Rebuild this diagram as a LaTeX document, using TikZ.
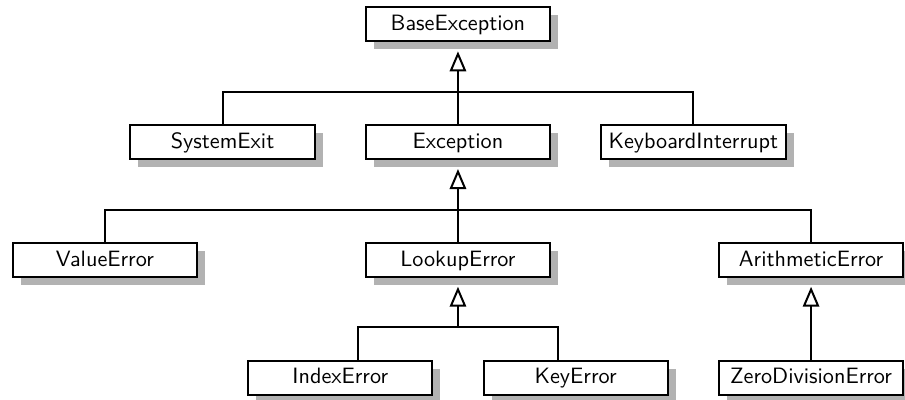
\documentclass[tikz,border=0pt]{standalone}
\usepackage{tikz}
\usetikzlibrary{
    arrows.meta,
    shadows
}

\tikzset{
    cls/.style={draw, line width=0.9pt, fill=white, font=\sffamily,
                minimum width=83pt, minimum height=15.3pt, inner sep=0pt,
                text height=1.6ex, text depth=0.3ex,
                drop shadow={shadow xshift=3.6pt, shadow yshift=-3.6pt,
                             fill=black!30, opacity=1}},
    link/.style={line width=0.9pt},
    inherit/.style={line width=0.9pt, shorten >=4pt,
                    -{Triangle[open, length=9pt, width=7.4pt]}}
}

\begin{document}
\begin{tikzpicture}[x=53pt, y=53pt]
    \useasboundingbox (-3.891,0.208) rectangle (3.798,-3.182);

    \node[cls] (BaseException)     at (0,0)   {BaseException};

    \node[cls] (SystemExit)        at (-2,-1) {SystemExit};
    \node[cls] (Exception)         at (0,-1)  {Exception};
    \node[cls] (KeyboardInterrupt) at (2,-1)  {KeyboardInterrupt};

    \node[cls] (ValueError)        at (-3,-2) {ValueError};
    \node[cls] (LookupError)       at (0,-2)  {LookupError};
    \node[cls] (ArithmeticError)   at (3,-2)  {ArithmeticError};

    \node[cls] (IndexError)        at (-1,-3) {IndexError};
    \node[cls] (KeyError)          at (1,-3)  {KeyError};
    \node[cls] (ZeroDivisionError) at (3,-3)  {ZeroDivisionError};

    % bars under each parent
    \coordinate (barBase)   at (0,-0.572);
    \coordinate (barExc)    at (0,-1.572);
    \coordinate (barLookup) at (0,-2.572);

    \draw[inherit] (barBase) -- (BaseException.south);
    \draw[link] (SystemExit.north) |- (barBase) -| (KeyboardInterrupt.north);
    \draw[link] (Exception.north) -- (barBase);

    \draw[inherit] (barExc) -- (Exception.south);
    \draw[link] (ValueError.north) |- (barExc) -| (ArithmeticError.north);
    \draw[link] (LookupError.north) -- (barExc);

    \draw[inherit] (barLookup) -- (LookupError.south);
    \draw[link] ([xshift=7.8pt]IndexError.north) |- (barLookup)
                -| ([xshift=-7.8pt]KeyError.north);

    \draw[inherit] (ZeroDivisionError.north) -- (ArithmeticError.south);
\end{tikzpicture}
\end{document}
